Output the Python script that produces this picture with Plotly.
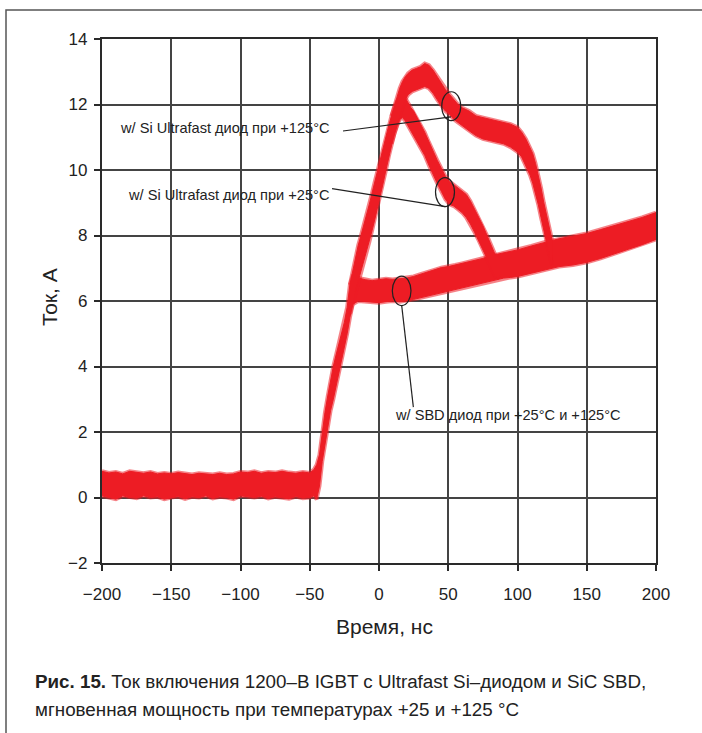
import plotly.graph_objects as go

# ---- measured turn-on current, dense noise band (lower / upper edge), A vs ns ----
# SiC SBD diode (same at +25 and +125 °C), includes the common pre-turn-on part
t_sbd = [-200, -195, -190, -185, -180, -175, -170, -165, -160, -155, -150, -145,
         -140, -135, -130, -125, -120, -115, -110, -105, -100, -95, -90, -85,
         -80, -75, -70, -65, -60, -55, -50, -47,
         -45, -43, -41, -39, -37, -35, -33, -31, -29, -27, -25, -23, -21, -19,
         -15, -10, -5, 0, 5, 10, 15, 20, 25, 30, 35, 40, 45, 50, 55, 60, 65, 70,
         75, 80, 85, 90, 95, 100, 110, 120, 130, 140, 150, 160, 170, 180, 190, 200]
sbd_lo = [0.05, 0.0, -0.05, 0.05, 0.0, -0.02, 0.05, 0.0, 0.02, -0.05, 0.0, 0.03,
          -0.04, 0.02, 0.0, 0.05, -0.03, 0.02, 0.0, -0.05, 0.05, 0.02, 0.0, 0.04,
          -0.03, 0.02, 0.0, -0.04, 0.03, -0.02, 0.0, 0.05,
          -0.05, 0.35, 1.1, 1.65, 2.2, 2.65, 3.0, 3.4, 3.75, 4.2, 4.6, 5.0, 5.5, 5.9,
          6.0, 5.98, 5.95, 5.95, 5.98, 6.0, 5.98, 6.0, 6.05, 6.1, 6.15, 6.2, 6.25, 6.3,
          6.35, 6.4, 6.45, 6.5, 6.55, 6.6, 6.65, 6.7, 6.72, 6.75, 6.85, 6.95, 7.05,
          7.1, 7.18, 7.3, 7.45, 7.58, 7.72, 7.88]
sbd_hi = [0.80, 0.75, 0.78, 0.72, 0.80, 0.76, 0.74, 0.78, 0.72, 0.75, 0.72, 0.76,
          0.74, 0.70, 0.74, 0.72, 0.70, 0.74, 0.70, 0.72, 0.78, 0.76, 0.80, 0.74,
          0.78, 0.76, 0.80, 0.76, 0.74, 0.78, 0.75, 0.85,
          1.0, 1.3, 2.0, 2.6, 3.1, 3.6, 4.0, 4.35, 4.7, 5.0, 5.35, 5.8, 6.5, 6.75,
          6.7, 6.65, 6.62, 6.65, 6.68, 6.66, 6.68, 6.7, 6.75, 6.82, 6.9, 6.95, 7.02,
          7.05, 7.1, 7.15, 7.2, 7.25, 7.3, 7.38, 7.42, 7.48, 7.52, 7.56, 7.68, 7.8,
          7.9, 7.98, 8.06, 8.18, 8.3, 8.42, 8.55, 8.7]

# Si Ultrafast diode at +25 °C
t_si25 = [-21, -19, -17, -15, -13, -11, -9, -7, -5, -3, -1, 1, 3, 5, 7, 9, 11, 13,
          15, 17, 19, 21, 23, 25, 27, 30, 33, 36, 39, 42, 45, 48, 51, 54, 57, 60,
          63, 66, 69, 72, 75, 78, 81, 84, 87]
si25_lo = [5.6, 5.9, 6.3, 6.6, 6.9, 7.2, 7.5, 7.8, 8.15, 8.5, 8.85, 9.2, 9.6, 10.0,
           10.4, 10.8, 11.1, 11.35, 11.55, 11.6, 11.5, 11.35, 11.2, 11.05, 10.9,
           10.7, 10.45, 10.15, 9.85, 9.6, 9.35, 9.1, 8.95, 8.9, 8.8, 8.7, 8.55, 8.35,
           8.1, 7.85, 7.6, 7.3, 7.0, 6.75, 6.7]
si25_hi = [6.5, 6.9, 7.35, 7.7, 8.0, 8.3, 8.6, 8.95, 9.3, 9.65, 10.0, 10.35, 10.7,
           11.0, 11.35, 11.65, 11.9, 12.1, 12.2, 12.25, 12.2, 12.05, 11.9, 11.8,
           11.65, 11.4, 11.15, 10.85, 10.55, 10.3, 10.05, 9.8, 9.65, 9.55, 9.45,
           9.35, 9.25, 9.05, 8.8, 8.55, 8.3, 8.0, 7.7, 7.4, 7.3]

# Si Ultrafast diode at +125 °C (splits from the +25 °C curve near the peak)
t_si125 = [9, 11, 13, 15, 17, 19, 21, 24, 27, 30, 33, 36, 39, 42, 45, 48, 51, 54,
           57, 60, 65, 70, 75, 80, 85, 90, 95, 100, 103, 106, 109, 111, 113, 115,
           117, 119, 121, 123, 125]
si125_lo = [10.8, 11.1, 11.4, 11.7, 11.95, 12.15, 12.3, 12.4, 12.45, 12.5, 12.55,
            12.5, 12.35, 12.15, 11.95, 11.8, 11.7, 11.55, 11.45, 11.35, 11.2, 11.05,
            10.95, 10.9, 10.85, 10.8, 10.7, 10.55, 10.4, 10.15, 9.85, 9.6, 9.3,
            8.95, 8.55, 8.15, 7.75, 7.4, 7.1]
si125_hi = [11.65, 11.95, 12.25, 12.5, 12.7, 12.85, 12.95, 13.05, 13.1, 13.15, 13.25,
            13.2, 13.05, 12.85, 12.65, 12.45, 12.3, 12.15, 12.0, 11.9, 11.8, 11.65,
            11.6, 11.55, 11.5, 11.45, 11.4, 11.3, 11.15, 10.95, 10.7, 10.5, 10.2,
            9.85, 9.45, 9.0, 8.6, 8.25, 7.85]

# ---- axis ticks ----
x_ticks = [-200, -150, -100, -50, 0, 50, 100, 150, 200]
x_ticktext = ["\u2212200", "\u2212150", "\u2212100", "\u221250", "0", "50", "100", "150", "200"]
y_ticks = [-2, 0, 2, 4, 6, 8, 10, 12, 14]
y_ticktext = ["\u22122", "0", "2", "4", "6", "8", "10", "12", "14"]

RED = "#ED1C24"
FRINGE = "rgba(237,28,36,0.55)"
INK = "#222222"
W, H = 702, 733


def px(xp):
    return xp / W


def py(yp):
    return 1 - yp / H


fig = go.Figure()


def band(t, lo, hi):
    # soft fringe along both edges of the noise band
    for edge in (lo, hi):
        fig.add_trace(go.Scatter(x=t, y=edge, mode="lines",
                                 line=dict(color=FRINGE, width=4),
                                 hoverinfo="skip", showlegend=False))
    fig.add_trace(go.Scatter(x=t, y=lo, mode="lines", line=dict(color=RED, width=1),
                             hoverinfo="skip", showlegend=False))
    fig.add_trace(go.Scatter(x=t, y=hi, mode="lines", line=dict(color=RED, width=1),
                             fill="tonexty", fillcolor=RED, hoverinfo="skip",
                             showlegend=False))


band(t_sbd, sbd_lo, sbd_hi)
band(t_si25, si25_lo, si25_hi)
band(t_si125, si125_lo, si125_hi)

shapes = []
# white masks behind the callout texts (hide the grid, stay under the traces)
for x0, x1, y0, y1 in [(110, 338, 108, 153), (115, 330, 175, 210), (388, 632, 398, 430)]:
    shapes.append(dict(type="rect", xref="paper", yref="paper", layer="between",
                       x0=px(x0), x1=px(x1), y0=py(y1), y1=py(y0),
                       fillcolor="white", line=dict(width=0)))
# callout ellipses and leader lines (data coordinates)
for x0, x1, y0, y1 in [(45.3, 59.0, 11.51, 12.39), (40.8, 54.5, 8.88, 9.77),
                       (9.6, 23.1, 5.86, 6.76)]:
    shapes.append(dict(type="circle", xref="x", yref="y", x0=x0, x1=x1, y0=y0, y1=y1,
                       line=dict(color=INK, width=1.2)))
for x0, y0, x1, y1 in [(-26.0, 11.19, 52.0, 11.62), (-33.9, 9.43, 48.0, 8.88),
                       (16.4, 5.86, 24.8, 2.76)]:
    shapes.append(dict(type="line", xref="x", yref="y", x0=x0, y0=y0, x1=x1, y1=y1,
                       line=dict(color=INK, width=1.2)))
# outer frame of the figure (left and top edges are inside the page)
shapes.append(dict(type="path", xref="paper", yref="paper", layer="below",
                   path=f"M {px(6)},0 L {px(6)},{py(10)} L 1,{py(10)}",
                   line=dict(color="#555555", width=1.5)))

annotations = [
    dict(text="w/ Si Ultrafast диод при +125°C", x=px(225), y=py(128)),
    dict(text="w/ Si Ultrafast диод при +25°C", x=px(228), y=py(195)),
    dict(text="w/ SBD диод при +25°C и +125°C", x=px(508), y=py(415)),
]
for a in annotations:
    a.update(xref="paper", yref="paper", showarrow=False, xanchor="center",
             yanchor="middle", font=dict(family="Liberation Sans, Arial", size=14.6, color=INK))

annotations += [
    dict(text="Ток, А", x=px(49), y=py(297), textangle=-90, xref="paper", yref="paper",
         showarrow=False, xanchor="center", yanchor="middle",
         font=dict(family="Liberation Sans, Arial", size=21, color=INK)),
    dict(text="Время, нс", x=px(384), y=py(626), xref="paper", yref="paper",
         showarrow=False, xanchor="center", yanchor="middle",
         font=dict(family="Liberation Sans, Arial", size=21, color=INK)),
    dict(text="<b>Рис. 15.</b> Ток включения 1200–В IGBT с Ultrafast Si–диодом и SiC SBD,",
         x=px(33), y=py(681), xref="paper", yref="paper", showarrow=False,
         xanchor="left", yanchor="middle",
         font=dict(family="Liberation Sans, Arial", size=18.8, color=INK)),
    dict(text="мгновенная мощность при температурах +25 и +125 °C",
         x=px(33), y=py(709), xref="paper", yref="paper", showarrow=False,
         xanchor="left", yanchor="middle",
         font=dict(family="Liberation Sans, Arial", size=18.8, color=INK)),
]

axis_common = dict(showline=True, mirror=True, linecolor="#2a2a2a", linewidth=2.2,
                   showgrid=True, gridcolor="#444444", gridwidth=1.6, zeroline=False,
                   ticks="outside", ticklen=6, tickwidth=1.6, tickcolor="#2a2a2a",
                   automargin=False,
                   tickfont=dict(family="Liberation Sans, Arial", size=17, color=INK))

fig.update_layout(
    width=W, height=H,
    margin=dict(l=0, r=0, t=0, b=0, pad=0, autoexpand=False),
    paper_bgcolor="white", plot_bgcolor="white",
    xaxis=dict(domain=[px(102), px(656)], range=[-200, 200], tickvals=x_ticks,
               ticktext=x_ticktext, ticklabelstandoff=8, **axis_common),
    yaxis=dict(domain=[py(563), py(39)], range=[-2, 14], tickvals=y_ticks,
               ticktext=y_ticktext, ticklabelstandoff=3, **axis_common),
    shapes=shapes,
    annotations=annotations,
)

fig.write_html("out.html", post_script="document.body.style.margin='0';")
